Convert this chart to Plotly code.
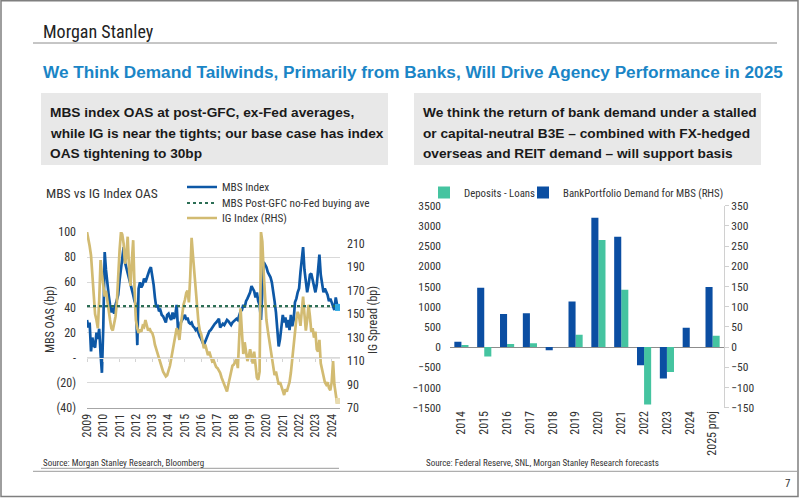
import pandas as pd
import plotly.graph_objects as go

# ---------------- data: left chart (monthly, 2009-01 .. 2024-06) ----------------
mbs_oas = [
    30, 24, 28, 5, 16, 10, 8, 20, 15, 23, 3, -12,          # 2009
    25, 84, 70, 58, 50, 42, 36, 40, 35, 42, 46, 50,        # 2010
    62, 72, 80, 88, 76, 72, 68, 62, 58, 54, 50, 45,        # 2011
    42, 10, 55, 60, 56, 58, 63, 60, 64, 66, 70, 72,        # 2012
    66, 58, 48, 40, 42, 37, 38, 34, 33, 30, 28, 34,        # 2013
    35, 32, 30, 36, 31, 34, 42, 22, 20, 28, 30, 33,        # 2014
    34, 30, 32, 28, 27, 28, 25, 24, 22, 23, 19, 17,        # 2015
    15, 12, 10, 13, 16, 19, 21, 22, 24, 26, 27, 28,        # 2016
    30, 31, 24, 26, 27, 26, 28, 30, 29, 27, 26, 28,        # 2017
    29, 30, 31, 30, 33, 37, 38, 42, 40, 45, 47, 49,        # 2018
    52, 57, 55, 53, 48, 52, 45, 42, 30, 50, 76, 74,        # 2019
    72, 68, 66, 64, 60, 54, 45, 36, 22, 9, 15, 26,         # 2020
    34, 28, 32, 24, 30, 22, 34, 25, 30, 44, 47, 52,        # 2021
    55, 68, 80, 88, 70, 58, 52, 58, 66, 67, 62, 56,        # 2022
    52, 58, 70, 82, 66, 58, 52, 55, 52, 50, 45, 47,        # 2023
    44, 40, 38, 48, 42, 40,                                # 2024
]
ig_oas = [
    220, 215, 208, 200, 182, 165, 150, 145, 138, 162, 196, 184,   # 2009
    172, 165, 170, 160, 152, 145, 138, 136, 142, 148, 160, 188,   # 2010
    205, 220, 218, 210, 193, 200, 216, 188, 174, 195, 213, 172,   # 2011
    145, 138, 134, 137, 135, 140, 139, 145, 141, 136, 138, 135,   # 2012
    134, 130, 124, 120, 115, 112, 108, 104, 101, 99, 97, 98,      # 2013
    102, 106, 112, 118, 126, 130, 138, 135, 128, 140, 150, 158,   # 2014
    162, 168, 170, 160, 182, 215, 200, 185, 168, 155, 143, 136,   # 2015
    133, 127, 121, 124, 118, 115, 118, 114, 110, 111, 107, 105,   # 2016
    104, 102, 100, 96, 93, 90, 86, 84, 90, 96, 101, 106,          # 2017
    107, 110, 112, 104, 130, 155, 135, 116, 126, 118, 110, 114,   # 2018
    120, 114, 108, 118, 106, 96, 94, 101, 220, 212, 185, 160,     # 2019
    145, 136, 128, 120, 112, 104, 98, 101, 96, 90, 92, 88,        # 2020
    84, 81, 86, 84, 88, 92, 100, 112, 125, 138, 146, 152,         # 2021
    148, 140, 150, 165, 150, 136, 145, 158, 148, 135, 138, 130,   # 2022
    135, 120, 118, 128, 108, 102, 96, 92, 90, 92, 87, 85,         # 2023
    92, 110, 90, 80, 74, 76,                                      # 2024
]
mbs_post_gfc_avg = 41
years = list(range(2009, 2025))

# ---------------- data: right chart ----------------
categories = ["2014", "2015", "2016", "2017", "2018", "2019", "2020",
              "2021", "2022", "2023", "2024", "2025 proj"]
deposits_minus_loans = [50, -230, 75, 95, 0, 305, 2650, 1420, -1420, -615, 0, 280]
bank_mbs_demand = [13, 147, 82, 84, -8, 113, 320, 273, -45, -78, 48, 149]

# ---------------- helpers ----------------
W, H = 802, 498
def px(x):
    return x / W
def py(y):
    return 1 - y / H

NARROW = "Liberation Sans Narrow, Arial Narrow, Roboto Condensed, Roboto, sans-serif"
SANS = "Liberation Sans, Arial, Helvetica, sans-serif"
TXT = "#333333"
BLUE = "#0D58A6"
GOLD = "#D2BB72"
DOT = "#2C6E55"
BAR_BLUE = "#0B4EA2"
BAR_GREEN = "#45C4A0"

dates = pd.date_range("2009-01-01", periods=len(mbs_oas), freq="MS")
x_range = ["2009-01-01", "2024-07-05"]
mbs_range = [-40, 100]
left_dom = [py(408), py(232)]
zero_pos = left_dom[0] + (0 - mbs_range[0]) / (mbs_range[1] - mbs_range[0]) * (left_dom[1] - left_dom[0])

fig = go.Figure()

# left chart traces
fig.add_trace(go.Scatter(x=dates, y=mbs_oas, name="MBS Index", mode="lines",
                         line=dict(color=BLUE, width=2.7), xaxis="x", yaxis="y",
                         legend="legend"))
fig.add_trace(go.Scatter(x=dates, y=ig_oas, name="IG Index (RHS)", mode="lines",
                         line=dict(color=GOLD, width=2.7), xaxis="x", yaxis="y2",
                         legend="legend4"))
fig.add_trace(go.Scatter(x=dates, y=[mbs_post_gfc_avg] * len(dates),
                         name="MBS Post-GFC no-Fed buying ave", mode="lines",
                         line=dict(color=DOT, width=2.2, dash="dot"),
                         xaxis="x3", yaxis="y", legend="legend3"))
fig.add_trace(go.Scatter(x=[dates[-1]], y=[ig_oas[-1]], mode="markers",
                         marker=dict(color="#E9DCB0", size=6, symbol="square"),
                         showlegend=False, xaxis="x", yaxis="y2"))
fig.add_trace(go.Scatter(x=[dates[-1]], y=[mbs_oas[-1]], mode="markers",
                         marker=dict(color="#2EA8E2", size=7, symbol="square"),
                         showlegend=False, xaxis="x3", yaxis="y"))

# right chart traces
fig.add_trace(go.Bar(x=categories, y=bank_mbs_demand,
                     name="BankPortfolio Demand for MBS (RHS)",
                     marker=dict(color=BAR_BLUE, line=dict(width=0)),
                     xaxis="x2", yaxis="y4", offsetgroup="a", legend="legend5"))
fig.add_trace(go.Bar(x=categories, y=deposits_minus_loans, name="Deposits - Loans",
                     marker=dict(color=BAR_GREEN, line=dict(width=0)),
                     xaxis="x2", yaxis="y3", offsetgroup="b", legend="legend2"))

tickfont = dict(family=NARROW, size=12, color=TXT)

def leg(x, y, size):
    return dict(x=px(x), y=py(y), xanchor="left", yanchor="middle",
                bgcolor="rgba(0,0,0,0)", font=dict(family=NARROW, size=size, color=TXT),
                itemwidth=30)

fig.update_layout(
    template="none",
    width=W, height=H, autosize=False,
    margin=dict(l=0, r=0, t=0, b=0, pad=0, autoexpand=False),
    paper_bgcolor="white", plot_bgcolor="rgba(0,0,0,0)",
    barmode="group", bargap=0.38, bargroupgap=0,
    font=dict(family=NARROW, color=TXT),
    xaxis=dict(domain=[px(87), px(340)], type="date", automargin=False,
               range=x_range,
               tickvals=[f"{y}-01-01" for y in years],
               ticktext=[str(y) for y in years],
               tickangle=-90, tickfont=dict(family=NARROW, size=12, color=TXT),
               showgrid=False, zeroline=False, showline=True,
               linecolor="#A6A6A6", linewidth=1, ticks=""),
    # light category axis crossing at zero, with small tick marks
    xaxis3=dict(domain=[px(87), px(340)], type="date", automargin=False,
                overlaying="x", anchor="free", position=zero_pos,
                range=x_range, tickvals=[f"{y}-01-01" for y in years],
                showticklabels=False, showgrid=False, zeroline=False,
                showline=True, linecolor="#E4E4E4", linewidth=1,
                ticks="outside", ticklen=3, tickcolor="#D4D4D4", tickwidth=1),
    yaxis=dict(domain=left_dom, range=mbs_range, automargin=False,
               tickvals=[-40, -20, 0, 20, 40, 60, 80, 100],
               ticktext=["(40)", "(20)", "-", "20", "40", "60", "80", "100"],
               tickfont=tickfont, showgrid=True, gridcolor="#D9D9D9", gridwidth=1,
               zeroline=False, showline=False, ticks="", ticklabelstandoff=10),
    yaxis2=dict(domain=left_dom, range=[70, 220], overlaying="y",
                side="right", anchor="x", automargin=False,
                tickvals=[70, 90, 110, 130, 150, 170, 190, 210],
                tickfont=tickfont, showgrid=False, zeroline=False,
                showline=False, ticks="", ticklabelstandoff=6),
    xaxis2=dict(domain=[px(450), px(724)], type="category", anchor="y3",
                automargin=False,
                tickangle=-90, tickfont=dict(family=NARROW, size=12, color=TXT),
                showgrid=False, zeroline=False, showline=False, ticks=""),
    yaxis3=dict(domain=[py(407.7), py(205.7)], range=[-1500, 3500], dtick=500,
                anchor="x2", automargin=False,
                tickfont=dict(family=NARROW, size=11.5, color=TXT),
                showgrid=False,
                zeroline=True, zerolinecolor="#8C8C8C", zerolinewidth=1.2,
                showline=False, ticks="", ticklabelstandoff=8),
    yaxis4=dict(domain=[py(407.7), py(205.7)], range=[-150, 350], dtick=50,
                overlaying="y3", side="right", anchor="x2", automargin=False,
                tickfont=dict(family=NARROW, size=11.5, color=TXT),
                showgrid=False, zeroline=False,
                showline=True, linecolor="#D0D0D0", linewidth=1,
                ticks="outside", ticklen=4, tickcolor="#D0D0D0"),
    legend=leg(182, 187, 11.3),
    legend3=leg(182, 203, 11.3),
    legend4=leg(182, 218, 11.3),
    legend2=leg(424, 192.5, 10.8),
    legend5=leg(523, 192.5, 10.8),
)

shapes = [
    # slide frame
    dict(type="rect", xref="paper", yref="paper", x0=px(1), x1=px(798),
         y0=py(496.5), y1=py(0.8), line=dict(color="#7F7F7F", width=1.5)),
    # header rule
    dict(type="line", xref="paper", yref="paper", x0=px(33), x1=px(777),
         y0=py(43), y1=py(43), line=dict(color="#8C8C8C", width=1)),
    # text boxes
    dict(type="rect", xref="paper", yref="paper", x0=px(41), x1=px(388),
         y0=py(165), y1=py(93), fillcolor="#E8E8E8", line=dict(width=0),
         layer="below"),
    dict(type="rect", xref="paper", yref="paper", x0=px(414), x1=px(761),
         y0=py(165), y1=py(93), fillcolor="#E8E8E8", line=dict(width=0),
         layer="below"),
    # footer rules
    dict(type="line", xref="paper", yref="paper", x0=px(41), x1=px(339),
         y0=py(468.3), y1=py(468.3), line=dict(color="#9A9A9A", width=1)),
    dict(type="line", xref="paper", yref="paper", x0=px(33), x1=px(797),
         y0=py(471.3), y1=py(471.3), line=dict(color="#9A9A9A", width=1)),
]
fig.update_layout(shapes=shapes)

def ann(text, x, y, size, color=TXT, family=NARROW, xanchor="left",
        yanchor="middle", angle=0, bold=False):
    t = f"<b>{text}</b>" if bold else text
    return dict(text=t, x=px(x), y=py(y), xref="paper", yref="paper",
                xanchor=xanchor, yanchor=yanchor, showarrow=False, align="left",
                textangle=angle, font=dict(family=family, size=size, color=color))

left_box = ["MBS index OAS at post-GFC, ex-Fed averages,",
            "while IG is near the tights; our base case has index",
            "OAS tightening to 30bp"]
right_box = ["We think the return of bank demand under a stalled",
             "or capital-neutral B3E – combined with FX-hedged",
             "overseas and REIT demand – will support basis"]
line_y = [112.7, 133.3, 153.5]

annotations = [
    ann("Morgan Stanley", 41, 31, 18, color="#222222"),
    ann("We Think Demand Tailwinds, Primarily from Banks, Will Drive Agency Performance in 2025",
        41, 72, 17.2, color="#1A85C6", family=SANS, bold=True),
    ann("MBS vs IG Index OAS", 44, 193, 13.5),
    ann("MBS OAS (bp)", 50, 320, 12, xanchor="center", angle=-90),
    ann("IG Spread (bp)", 373, 320, 12, xanchor="center", angle=-90),
    ann("Source: Morgan Stanley Research, Bloomberg", 41, 463, 9),
    ann("Source: Federal Reserve, SNL, Morgan Stanley Research forecasts", 424, 463, 9),
    ann("7", 783, 483, 11),
]
for txt, yy in zip(left_box, line_y):
    annotations.append(ann(txt, 48, yy, 13.7, color="#1A1A1A", family=SANS, bold=True))
for txt, yy in zip(right_box, line_y):
    annotations.append(ann(txt, 421, yy, 13.7, color="#1A1A1A", family=SANS, bold=True))
fig.update_layout(annotations=annotations)

fig.write_html("out.html",
               config={"displayModeBar": False},
               post_script="document.body.style.margin='0px';"
                           "document.body.style.overflow='hidden';")
